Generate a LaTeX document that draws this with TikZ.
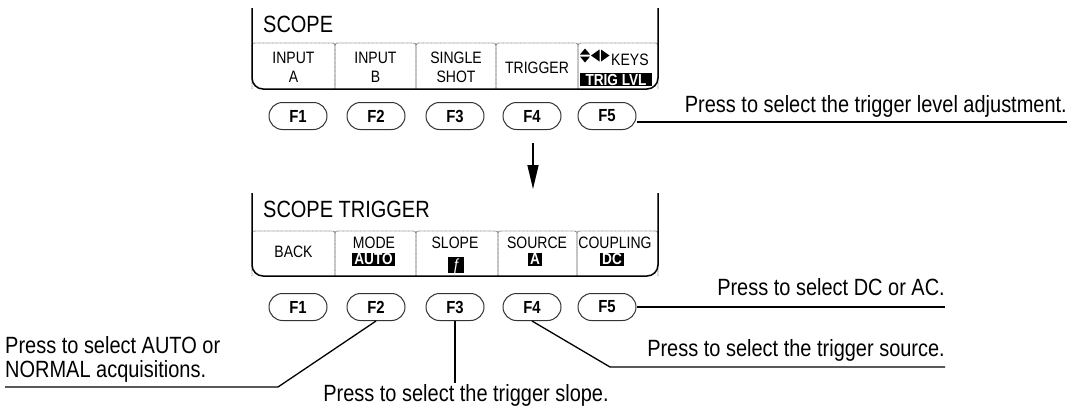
\documentclass[tikz,border=0pt]{standalone}
\usepackage{fontspec}
\setmainfont{Liberation Sans}[FakeStretch=0.85]
\usetikzlibrary{arrows.meta,shapes.misc}

\begin{document}
\begin{tikzpicture}[x=1pt,y=-1pt,
  frame/.style={line width=1.5pt,rounded corners=11pt},
  tab/.style={draw=black!50,line width=.9pt,dash pattern=on .8pt off .5pt,rounded corners=2.5pt},
  keylbl/.style={font=\fontsize{16.5}{19}\selectfont,align=center,inner sep=0pt},
  inv/.style={fill=black,text=white,font=\fontsize{16}{17}\selectfont\bfseries,inner xsep=2pt,inner ysep=.8pt,text height=10.5pt,text depth=0pt},
  fkey/.style={rounded rectangle,draw=black!80,line width=1pt,minimum width=58pt,minimum height=27pt,inner sep=0pt,font=\fontsize{17.5}{17}\selectfont\bfseries},
  lead/.style={line width=1.3pt},
  note/.style={font=\fontsize{23.5}{24}\selectfont,inner sep=0pt},
  flow/.style={line width=1.5pt,-{Triangle[length=24pt,width=11pt]}}]
\path[use as bounding box] (0,0) rectangle (1068,405);
% top screen
\foreach \a/\b in {252/335,335/416,416/496,496/578,578/658}
  \draw[tab] (\a,89) -- (\a,43) -- (\b,43) -- (\b,89);
\draw[frame] (252,8) -- (252,89) -- (658,89) -- (658,8);
\node[note,anchor=base west] (scope) at (263,32) {SCOPE};
\node[keylbl] (inA) at (293.5,67.5) {INPUT\\A};
\node[keylbl] (inB) at (375.5,67.5) {INPUT\\B};
\node[keylbl] (single) at (456,67.5) {SINGLE\\SHOT};
\node[keylbl] (trigger) at (537,68) {TRIGGER};
\node[keylbl,anchor=west] (keys) at (611,59.5) {KEYS};
\node[inv,minimum width=72pt,text height=11.5pt] (triglvl) at (616,79.5) {TRIG LVL};
\fill (580,54.5) -- (585,48.5) -- (590,54.5) -- cycle;
\fill (580,56.5) -- (585,62.5) -- (590,56.5) -- cycle;
\fill (599.5,49.5) -- (591,55.5) -- (599.5,61.5) -- cycle;
\fill (601,49.5) -- (609.5,55.5) -- (601,61.5) -- cycle;
\foreach \n/\x in {1/298,2/376,3/455,4/532,5/607}
  \node[fkey] (tF\n) at (\x,116) {F\n};
% arrow between menus
\coordinate (arrS) at (533,143);
\coordinate (arrE) at (533,189);
\draw[flow] (arrS) -- (arrE);
% bottom screen
\foreach \a/\b in {252/335,335/416,416/498,498/577,577/658}
  \draw[tab] (\a,276) -- (\a,231) -- (\b,231) -- (\b,276);
\draw[frame] (252,193) -- (252,276) -- (658,276) -- (658,193);
\node[note,anchor=base west] (scopetrig) at (263,217) {SCOPE TRIGGER};
\node[keylbl] (back) at (293.5,252) {BACK};
\node[keylbl] (mode) at (374,242.5) {MODE};
\node[inv] (auto) at (373.5,259.5) {AUTO};
\node[keylbl] (slope) at (455,242.5) {SLOPE};
\node[inv,font=\fontsize{16.5}{17}\selectfont\mdseries\itshape,inner xsep=4pt,inner ysep=2.5pt,text height=11pt] (edge) at (456,265) {ƒ};
\node[keylbl] (source) at (537,242.5) {SOURCE};
\node[inv] (srcA) at (535,259.5) {A};
\node[keylbl] (coupling) at (615,242.5) {COUPLING};
\node[inv] (dc) at (612,259.5) {DC};
\foreach \n/\x in {1/298,2/376,3/455,4/532,5/607}
  \node[fkey] (bF\n) at (\x,307) {F\n};
% callouts
\node[note,anchor=base east] (cLvl) at (1067,112) {Press to select the trigger level adjustment.};
\node[note,anchor=base east] (cDc) at (945,295) {Press to select DC or AC.};
\node[note,anchor=base east] (cSrc) at (945,356) {Press to select the trigger source.};
\node[note,anchor=north west,align=left] (cMode) at (5,336) {Press to select AUTO or\\NORMAL acquisitions.};
\node[note,anchor=base] (cSlope) at (466,401) {Press to select the trigger slope.};
\coordinate (lvlE) at (1067,122);
\coordinate (dcE) at (945,307);
\coordinate (srcK) at (610,367);
\coordinate (srcE) at (945,367);
\coordinate (slopeE) at (455,383);
\coordinate (modeK) at (278,387);
\coordinate (modeE) at (5,387);
\draw[lead] (tF5.east |- lvlE) -- (lvlE);
\draw[lead] (bF5.east) -- (dcE);
\draw[lead] (bF4.south) -- (srcK) -- (srcE);
\draw[lead] (bF3.south) -- (slopeE);
\draw[lead] (bF2.south) -- (modeK) -- (modeE);
\end{tikzpicture}
\end{document}
